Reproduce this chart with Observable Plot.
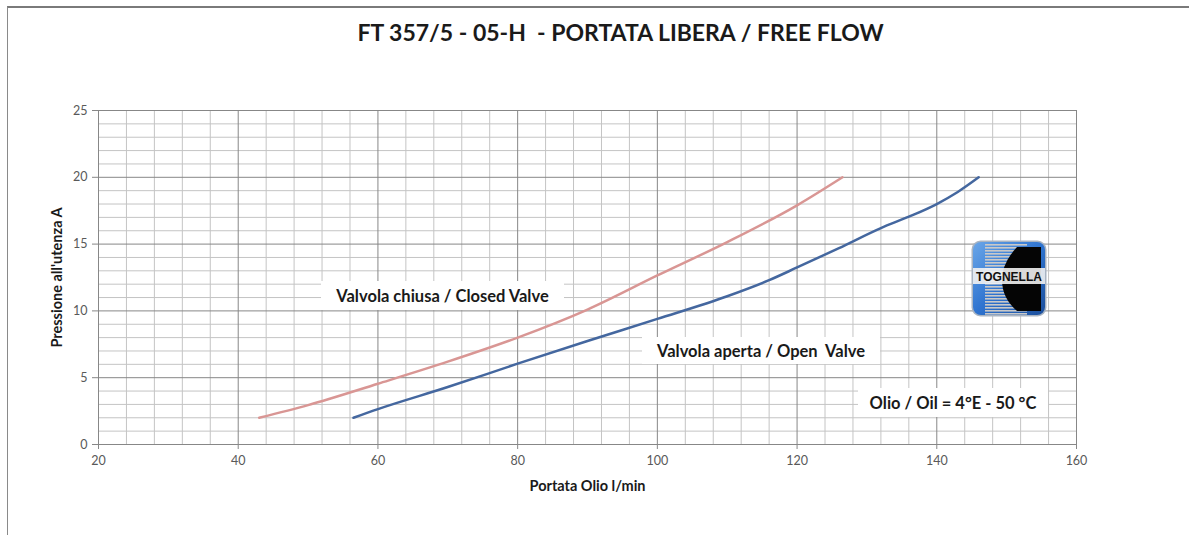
<!DOCTYPE html>
<html>
<head>
<meta charset="utf-8">
<script src="https://cdn.jsdelivr.net/npm/d3@7"></script>
<script src="https://cdn.jsdelivr.net/npm/@observablehq/plot@0.6"></script>
<style>
  html, body { margin: 0; padding: 0; background: #fff; }
  #wrap { position: relative; width: 1189px; height: 535px; overflow: hidden; font-family: Lato, "Open Sans", sans-serif; }
  #frame { position: absolute; left: 7px; top: 6px; width: 1200px; height: 560px; border-left: 1px solid #8a8a8a; border-top: 2px solid #7a7a7a; box-sizing: border-box; }
  #title { position: absolute; left: 0; width: 1241px; top: 18px; text-align: center; font-weight: bold; font-size: 23px; color: #1a1a1a; white-space: pre; }
  #chart { position: absolute; left: 0; top: 0; }
  .note { position: absolute; background: #fff; font-weight: bold; font-size: 16.5px; color: #1a1a1a; white-space: pre; display: flex; align-items: center; justify-content: center; }
  #logo { position: absolute; left: 971px; top: 240px; }
</style>
</head>
<body>
<div id="wrap">
  <div id="frame"></div>
  <div id="chart"></div>
  <div id="title"></div>
  <div class="note" id="n1" style="left:321px;top:281px;width:243px;height:29px;"></div>
  <div class="note" id="n2" style="left:642px;top:337px;width:238px;height:27px;"></div>
  <div class="note" id="n3" style="left:858px;top:388px;width:190px;height:29px;"></div>
  <svg id="logo" width="76" height="77" viewBox="0 0 76 77">
    <defs>
      <linearGradient id="bg" x1="0" y1="0" x2="1" y2="1">
        <stop offset="0" stop-color="#6aa6e8"/>
        <stop offset="0.5" stop-color="#2f74d0"/>
        <stop offset="1" stop-color="#1c4f9c"/>
      </linearGradient>
      <clipPath id="cp"><rect x="2" y="2" width="72" height="73" rx="8"/></clipPath>
    </defs>
    <rect x="0.5" y="0.5" width="75" height="76" rx="9" fill="#a9b4c2" />
    <rect x="2" y="2" width="72" height="73" rx="8" fill="url(#bg)" />
    <g clip-path="url(#cp)" id="stripes"></g>
    <path d="M70 7 L46 7 Q31 23 31 40 Q31 58 46 71 L70 71 Z" fill="#050505" clip-path="url(#cp)"/>
    <rect x="2" y="28" width="72" height="16" fill="#f2f2f2" opacity="0.9"/>
    <text x="38" y="41" text-anchor="middle" font-family="Liberation Sans, Arial, sans-serif" font-weight="bold" font-size="12" fill="#111">TOGNELLA</text>
  </svg>
</div>
<script>
// ---- text ----
const titleText = "FT 357/5 - 05-H  - PORTATA LIBERA / FREE FLOW";
const xLabel = "Portata Olio l/min";
const yLabel = "Pressione all'utenza A";
const noteClosed = "Valvola chiusa / Closed Valve";
const noteOpen = "Valvola aperta / Open  Valve";
const noteOil = "Olio / Oil = 4°E - 50 °C";

// ---- axes ----
const xTicks = [20, 40, 60, 80, 100, 120, 140, 160];
const yTicks = [0, 5, 10, 15, 20, 25];
const xMinor = [24, 28, 32, 36, 44, 48, 52, 56, 64, 68, 72, 76, 84, 88, 92, 96, 104, 108, 112, 116, 124, 128, 132, 136, 144, 148, 152, 156];
const yMinor = [1, 2, 3, 4, 6, 7, 8, 9, 11, 12, 13, 14, 16, 17, 18, 19, 21, 22, 23, 24];

// ---- series: Valvola chiusa / Closed Valve ----
const closedFlow = [43, 50, 60, 70, 80, 90, 100, 110, 120, 126.5];
const closedPress = [2.0, 2.95, 4.55, 6.2, 8.0, 10.1, 12.65, 15.15, 17.9, 20.0];

// ---- series: Valvola aperta / Open Valve ----
const openFlow = [56.5, 60, 70, 80, 90, 100, 110, 116, 120, 126, 132, 136, 140, 143, 146];
const openPress = [2.0, 2.65, 4.3, 6.05, 7.75, 9.4, 11.1, 12.3, 13.25, 14.7, 16.2, 17.05, 18.0, 18.9, 20.0];

const closed = closedFlow.map((x, i) => ({x, y: closedPress[i]}));
const open = openFlow.map((x, i) => ({x, y: openPress[i]}));

document.getElementById("title").textContent = titleText;
document.getElementById("n1").textContent = noteClosed;
document.getElementById("n2").textContent = noteOpen;
document.getElementById("n3").textContent = noteOil;

// logo stripes
const st = d3.select("#stripes");
for (let i = 0; i < 24; i++) {
  st.append("rect").attr("x", 14).attr("y", 4 + i * 3).attr("width", 42).attr("height", 1.6).attr("fill", "#c9c9c9");
}

const chart = Plot.plot({
  width: 1189,
  height: 535,
  marginLeft: 98,
  marginRight: 113,
  marginTop: 110,
  marginBottom: 91,
  style: {fontFamily: "Lato, 'Open Sans', sans-serif", fontSize: "12.5px", color: "#595959", background: "transparent"},
  x: {domain: [20, 160], ticks: xTicks, label: null},
  y: {domain: [0, 25], ticks: yTicks, label: null},
  marks: [
    Plot.ruleX(xMinor, {stroke: "#c4c4c4", strokeWidth: 1}),
    Plot.ruleY(yMinor, {stroke: "#c4c4c4", strokeWidth: 1}),
    Plot.ruleX(xTicks, {stroke: "#878787", strokeWidth: 1}),
    Plot.ruleY(yTicks, {stroke: "#878787", strokeWidth: 1}),
    Plot.axisX({ticks: xTicks, tickSize: 5, tickPadding: 7, label: null, stroke: "#878787"}),
    Plot.axisY({ticks: yTicks, tickSize: 6, tickPadding: 5, label: null, stroke: "#878787"}),
    Plot.line(closed, {x: "x", y: "y", stroke: "#d99694", strokeWidth: 2.5, curve: "monotone-x"}),
    Plot.line(open, {x: "x", y: "y", stroke: "#44679f", strokeWidth: 2.5, curve: "monotone-x"}),
    Plot.text([xLabel], {frameAnchor: "bottom", dy: 46, text: d => d, textAnchor: "middle", fontWeight: "bold", fontSize: 14.5, fill: "#1a1a1a"}),
    Plot.text([yLabel], {frameAnchor: "left", dx: -41, rotate: -90, text: d => d, textAnchor: "middle", fontWeight: "bold", fontSize: 14.5, fill: "#1a1a1a"})
  ]
});
document.getElementById("chart").appendChild(chart);
</script>
</body>
</html>
